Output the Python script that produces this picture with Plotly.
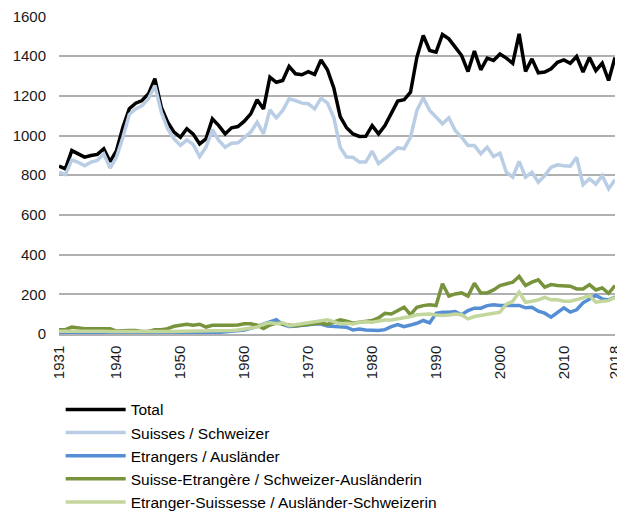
import plotly.graph_objects as go

years = list(range(1931, 2019))

total = [846, 832, 924, 908, 891, 899, 905, 933, 868, 924,
         1042, 1135, 1163, 1176, 1210, 1286, 1143, 1067, 1017, 991,
         1034, 1007, 958, 983, 1084, 1050, 1008, 1039, 1045, 1072,
         1109, 1180, 1134, 1294, 1268, 1277, 1348, 1311, 1306, 1322,
         1308, 1381, 1331, 1240, 1095, 1039, 1008, 995, 996, 1050,
         1008, 1050, 1109, 1173, 1180, 1218, 1394, 1504, 1428, 1420,
         1509, 1487, 1445, 1403, 1322, 1425, 1331, 1390, 1378, 1411,
         1390, 1364, 1512, 1322, 1386, 1316, 1320, 1336, 1369, 1381,
         1364, 1398, 1320, 1393, 1327, 1364, 1277, 1393]

suisses = [815, 803, 877, 865, 848, 866, 874, 908, 836, 891,
           991, 1106, 1134, 1151, 1185, 1252, 1118, 1034, 983, 950,
           978, 955, 894, 941, 1029, 975, 941, 961, 963, 988,
           1017, 1067, 1008, 1129, 1089, 1126, 1185, 1176, 1163, 1160,
           1134, 1188, 1163, 1090, 940, 891, 890, 866, 866, 921,
           858, 883, 908, 938, 933, 991, 1126, 1190, 1126, 1092,
           1059, 1089, 1025, 991, 950, 950, 908, 941, 894, 911,
           815, 790, 870, 790, 815, 765, 798, 840, 852, 848,
           845, 890, 752, 782, 755, 798, 731, 777]

etrangers = [5, 5, 8, 5, 5, 3, 2, 2, 3, 3,
             3, 3, 5, 3, 5, 5, 5, 5, 3, 3,
             3, 5, 3, 3, 5, 8, 10, 15, 18, 20,
             28, 40, 52, 60, 72, 48, 38, 40, 45, 47,
             50, 50, 40, 37, 37, 34, 20, 25, 20, 17,
             18, 22, 37, 47, 37, 45, 54, 68, 56, 104,
             109, 109, 113, 97, 118, 130, 130, 143, 147, 144,
             144, 147, 144, 132, 135, 115, 105, 85, 110, 132,
             110, 122, 157, 177, 194, 177, 172, 186]

suisse_etrangere = [22, 22, 35, 30, 27, 27, 27, 24, 27, 15,
                    18, 18, 18, 13, 13, 22, 22, 27, 39, 44,
                    49, 44, 49, 35, 44, 44, 42, 44, 45, 52,
                    52, 44, 28, 45, 55, 50, 45, 40, 45, 48,
                    50, 55, 48, 59, 71, 64, 54, 59, 64, 68,
                    81, 104, 101, 118, 135, 97, 135, 143, 147, 143,
                    253, 191, 202, 207, 191, 256, 207, 207, 222, 244,
                    252, 261, 290, 244, 261, 273, 236, 249, 244, 244,
                    241, 227, 227, 249, 222, 232, 205, 244]

etranger_suissesse = [14, 14, 18, 18, 16, 15, 15, 14, 12, 12,
                      10, 10, 10, 8, 8, 10, 10, 12, 12, 14,
                      14, 14, 15, 14, 15, 14, 15, 18, 20, 25,
                      27, 35, 50, 57, 52, 57, 42, 47, 52, 57,
                      60, 63, 72, 62, 51, 54, 51, 59, 62, 59,
                      66, 71, 71, 76, 81, 88, 97, 101, 101, 96,
                      93, 96, 101, 97, 76, 88, 93, 96, 104, 110,
                      150, 165, 211, 160, 165, 172, 185, 172, 172, 165,
                      165, 172, 182, 194, 160, 165, 168, 185]

x_ticks = [1931, 1940, 1950, 1960, 1970, 1980, 1990, 2000, 2010, 2018]
y_ticks = [0, 200, 400, 600, 800, 1000, 1200, 1400, 1600]

series = [
    ("Total", total, "#000000", 3.5),
    ("Suisses / Schweizer", suisses, "#B9CDE5", 3.5),
    ("Etrangers / Ausländer", etrangers, "#558ED5", 3.5),
    ("Suisse-Etrangère / Schweizer-Ausländerin", suisse_etrangere, "#77933C", 3.5),
    ("Etranger-Suissesse / Ausländer-Schweizerin", etranger_suissesse, "#C3D69B", 3.5),
]

fig = go.Figure()
for name, vals, color, w in series:
    fig.add_trace(go.Scatter(x=years, y=vals, name=name, mode="lines",
                             line=dict(color=color, width=w)))

font_family = "Liberation Sans, Arial, sans-serif"
# The page body has an 8px default margin; figure is sized to fit 625x513 window.
fig.update_layout(
    width=617, height=505,
    margin=dict(l=51, r=10, t=8, b=179, autoexpand=False),
    paper_bgcolor="white", plot_bgcolor="white",
    font=dict(family=font_family, size=15, color="#000000"),
    xaxis=dict(range=[1930.999, 2018.001], tickvals=x_ticks, ticktext=[str(t) for t in x_ticks],
               tickangle=-90, showgrid=False, zeroline=False, automargin=False,
               showline=True, linecolor="#B0B0B0", linewidth=1.5,
               ticklabeloverflow="allow",
               ticks="", ticklabelstandoff=4, tickfont=dict(size=15, color="#1a1a1a")),
    yaxis=dict(range=[0, 1602], tickvals=y_ticks, showgrid=True, gridcolor="#B0B0B0",
               gridwidth=1.5, zeroline=False, showline=False, ticks="", automargin=False,
               ticklabeloverflow="allow",
               ticklabelstandoff=12, tickfont=dict(size=15, color="#1a1a1a")),
    legend=dict(orientation="v", x=0.003, xanchor="left", y=-0.185, yanchor="top",
                font=dict(size=15.5, color="#000000"), bgcolor="rgba(0,0,0,0)",
                itemwidth=60, tracegroupgap=0),
    showlegend=True,
)

fig.write_html("out.html")
